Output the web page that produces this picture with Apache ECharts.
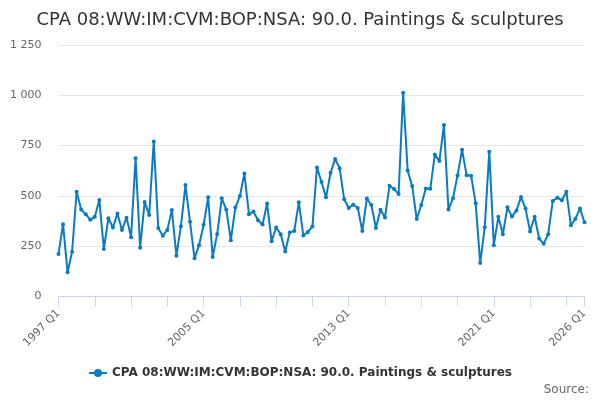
<!DOCTYPE html>
<html>
<head>
<meta charset="utf-8">
<script src="https://cdn.jsdelivr.net/npm/echarts@6/dist/echarts.min.js"></script>
<style>
html,body{margin:0;padding:0;background:#fff;}
#chart{width:600px;height:400px;}
</style>
</head>
<body>
<div id="chart"></div>
<script>
const titleText = "CPA 08:WW:IM:CVM:BOP:NSA: 90.0. Paintings & sculptures";
const seriesName = "CPA 08:WW:IM:CVM:BOP:NSA: 90.0. Paintings & sculptures";
const startYear = 1997;
const endYear = 2026;
const labelledQuarters = ["1997 Q1", "2005 Q1", "2013 Q1", "2021 Q1", "2026 Q1"];
const yTicks = [0, 250, 500, 750, 1000, 1250];

const values = [
  211, 359, 120, 222, 521, 432, 409, 381, 396, 480,
  236, 389, 343, 412, 330, 392, 295, 687, 242, 470,
  405, 770, 341, 302, 331, 430, 203, 349, 554, 371,
  190, 255, 356, 493, 196, 311, 488, 433, 280, 442,
  499, 611, 409, 422, 379, 358, 462, 275, 343, 310,
  224, 318, 326, 468, 303, 321, 348, 641, 569, 493,
  615, 684, 638, 483, 440, 456, 440, 325, 487, 455,
  340, 431, 393, 550, 534, 509, 1013, 626, 549, 385,
  455, 537, 536, 706, 673, 853, 433, 488, 602, 729,
  603, 600, 463, 166, 344, 720, 255, 396, 310, 443,
  397, 428, 494, 437, 323, 396, 288, 262, 310, 475,
  491, 478, 521, 354, 386, 437, 369
];

const categories = [];
for (let y = startYear; y <= endYear; y++) {
  for (let q = 1; q <= 4; q++) {
    categories.push(y + " Q" + q);
    if (categories.length === values.length) break;
  }
  if (categories.length === values.length) break;
}
const lastIdx = categories.length - 1;

const chart = echarts.init(document.getElementById('chart'), null, {renderer: 'canvas'});
const font = "'DejaVu Sans', Verdana, sans-serif";
const color = '#0a7bc1';

chart.setOption({
  animation: false,
  textStyle: {fontFamily: font},
  title: {
    text: titleText,
    left: 'center',
    top: 6,
    textStyle: {fontFamily: font, fontSize: 18, fontWeight: 'normal', color: '#333333'}
  },
  legend: {
    bottom: 16,
    left: 'center',
    itemWidth: 18,
    itemHeight: 10,
    textStyle: {fontFamily: font, fontSize: 12, fontWeight: 'bold', color: '#333333'},
    data: [seriesName]
  },
  graphic: [{
    type: 'text',
    right: 11,
    top: 384,
    style: {text: 'Source:', fontFamily: font, fontSize: 12, fill: '#666666'}
  }],
  grid: {left: 58.5, right: 15.5, top: 45, bottom: 103.5, containLabel: false},
  xAxis: {
    type: 'category',
    data: categories,
    boundaryGap: false,
    axisLine: {show: true, lineStyle: {color: '#ccd6eb', width: 1}},
    axisTick: {
      show: true,
      inside: false,
      length: 10,
      lineStyle: {color: '#ccd6eb'},
      interval: function (i) { return i % 8 === 0 || i === lastIdx; }
    },
    axisLabel: {
      rotate: 45,
      fontSize: 11,
      color: '#666666',
      fontFamily: font,
      margin: 15,
      interval: function (i, v) { return labelledQuarters.indexOf(v) >= 0; }
    },
    splitLine: {show: false}
  },
  yAxis: {
    type: 'value',
    min: yTicks[0],
    max: yTicks[yTicks.length - 1],
    interval: 250,
    axisLine: {show: false},
    axisTick: {show: false},
    axisLabel: {
      fontSize: 11,
      color: '#666666',
      fontFamily: font,
      margin: 17,
      formatter: function (v) { return String(v).replace(/\B(?=(\d{3})+(?!\d))/g, ' '); }
    },
    splitLine: {lineStyle: {color: '#e6e6e6', width: 1}}
  },
  series: [{
    name: seriesName,
    type: 'line',
    data: values,
    color: color,
    lineStyle: {width: 2, color: color},
    symbol: 'circle',
    symbolSize: 4,
    showAllSymbol: true,
    itemStyle: {color: color}
  }]
});
</script>
</body>
</html>
